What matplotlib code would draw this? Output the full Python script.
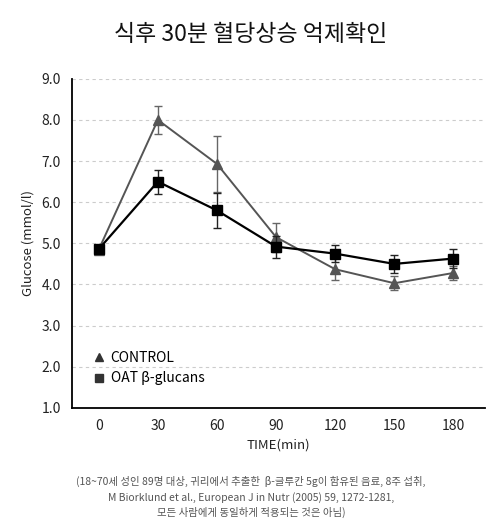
import matplotlib.pyplot as plt

plt.rcParams['font.family'] = ['Noto Sans CJK KR', 'DejaVu Sans']

time = [0, 30, 60, 90, 120, 150, 180]
control = [4.85, 8.0, 6.93, 5.15, 4.37, 4.03, 4.28]
control_err = [0.0, 0.33, 0.68, 0.35, 0.27, 0.17, 0.18]
oat = [4.86, 6.5, 5.8, 4.92, 4.75, 4.5, 4.63]
oat_err = [0.0, 0.29, 0.43, 0.27, 0.21, 0.22, 0.23]
yticks = [1.0, 2.0, 3.0, 4.0, 5.0, 6.0, 7.0, 8.0, 9.0]

fig = plt.figure(figsize=(5.02, 5.29), dpi=100)
ax = fig.add_axes([0.143, 0.229, 0.823, 0.622])

ax.errorbar(time, control, yerr=control_err, color='#555555', marker='^', markersize=7,
            linewidth=1.4, capsize=3, elinewidth=1, ecolor='#666666', label='CONTROL', zorder=3)
ax.errorbar(time, oat, yerr=oat_err, color='black', marker='s', markersize=7,
            linewidth=1.6, capsize=3, elinewidth=1, ecolor='#222222', label='OAT β-glucans', zorder=4)

ax.set_xlim(-13.7, 196)
ax.set_ylim(1.0, 9.0)
ax.set_xticks(time)
ax.set_yticks(yticks)
ax.set_yticklabels(['%.1f' % v for v in yticks])
ax.tick_params(length=0, labelsize=10, colors='#222222', pad=8)
ax.grid(axis='y', linestyle=(0, (3, 3)), color='#cccccc', linewidth=0.8)
ax.set_axisbelow(True)
for s in ['top', 'right']:
    ax.spines[s].set_visible(False)
ax.spines['left'].set_linewidth(1.3)
ax.spines['bottom'].set_linewidth(1.3)

ax.set_xlabel('TIME(min)', fontsize=9.5, color='#222222', labelpad=4)
ax.set_ylabel('Glucose (mmol/l)', fontsize=9.5, color='#222222', labelpad=5)

h, l = ax.get_legend_handles_labels()
hs = [plt.Line2D([], [], color='#333333', marker='^', linestyle='none', markersize=6),
      plt.Line2D([], [], color='#333333', marker='s', linestyle='none', markersize=6)]
ax.legend(hs, l, loc='lower left', bbox_to_anchor=(0.01, 0.03), frameon=False,
          fontsize=10, handletextpad=0.1, labelspacing=0.5, handlelength=1.5)

fig.text(0.5, 0.935, '식후 30분 혈당상승 억제확인', ha='center', va='center', fontsize=16.5, color='#111111')
caption = ('(18~70세 성인 89명 대상, 귀리에서 추출한  β-글루칸 5g이 함유된 음료, 8주 섭취,\n'
           'M Biorklund et al., European J in Nutr (2005) 59, 1272-1281,\n'
           '모든 사람에게 동일하게 적용되는 것은 아님)')
fig.text(0.5, 0.06, caption, ha='center', va='center', fontsize=7.5, color='#555555', linespacing=1.5)

fig.savefig('out.png', dpi=100)
